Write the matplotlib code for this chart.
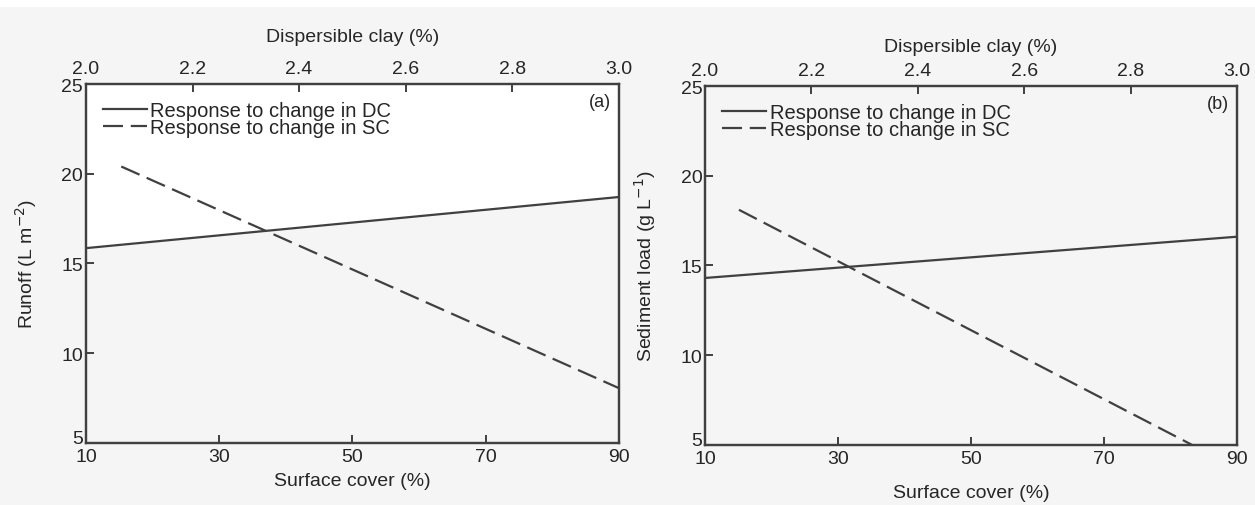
import numpy as np
import matplotlib
matplotlib.use('Agg')
import matplotlib.pyplot as plt

plt.rcParams['font.family'] = ['Liberation Sans', 'DejaVu Sans']

# data
# x: surface cover (%) for SC response, dispersible clay (%) for DC response
sc_x = [15.3, 90]
runoff_sc = [20.4, 8.05]
dc_x = [2.0, 3.0]
runoff_dc = [15.85, 18.7]

sed_sc_x = [15.1, 83.2]
sed_sc = [18.1, 5.0]
sed_dc = [14.3, 16.6]

sc_ticks = [10, 30, 50, 70, 90]
dc_ticks = [2.0, 2.2, 2.4, 2.6, 2.8, 3.0]
y_ticks = [5, 10, 15, 20, 25]

bg = '#f5f5f5'
ink = '#262626'
lc = '#404040'
fs = 14

fig = plt.figure(figsize=(12.55, 5.06), dpi=100, facecolor=bg)
# white strip along the top scan edge
fig.patches.append(plt.Rectangle((0, 0.986), 1, 0.014, transform=fig.transFigure,
                                 color='white', zorder=-1))

def panel(rect, sx, sy, dy, ylab, tag, xlab_pad, tlab_pad, fill=False):
    ax = fig.add_axes(rect)
    ax.set_facecolor(bg)
    ax.set_xlim(10, 90)
    ax.set_ylim(5, 25)
    ax.set_xticks(sc_ticks)
    ax.set_yticks(y_ticks)
    for s in ax.spines.values():
        s.set_linewidth(1.6)
        s.set_color(lc)
    ax.tick_params(axis='both', direction='in', length=6, width=1.4, colors=lc,
                   labelsize=fs, labelcolor=ink)
    ax.tick_params(axis='x', pad=4)
    ax.tick_params(axis='y', pad=2)
    # lift the bottom corner label like the original
    ax.get_yticklabels()[0].set_va('baseline')
    ax.set_xlabel('Surface cover (%)', fontsize=fs, color=ink, labelpad=xlab_pad)
    ax.set_ylabel(ylab, fontsize=fs, color=ink, labelpad=16)
    ln2, = ax.plot(sx, sy, color=lc, lw=1.6, dashes=(9, 3.5), zorder=3)

    top = ax.twiny()
    top.set_xlim(2.0, 3.0)
    top.set_xticks(dc_ticks)
    top.set_xticklabels(['%.1f' % t for t in dc_ticks])
    top.tick_params(axis='x', direction='in', length=6, width=1.4, colors=lc,
                    labelsize=fs, labelcolor=ink, pad=5)
    for s in top.spines.values():
        s.set_linewidth(1.6)
        s.set_color(lc)
    top.set_xlabel('Dispersible clay (%)', fontsize=fs, color=ink, labelpad=tlab_pad)
    ln1, = top.plot(dc_x, dy, color=lc, lw=1.6, zorder=3)
    if fill:
        top.fill_between(dc_x, dy, [25, 25], color='white', lw=0, zorder=0)
    ax.set_zorder(top.get_zorder() + 1)
    ax.patch.set_visible(False)
    top.patch.set_visible(True)
    top.patch.set_facecolor(bg)

    ax.legend([ln1, ln2], ['Response to change in DC', 'Response to change in SC'],
              loc='upper left', bbox_to_anchor=(0.0, 1.0), frameon=False,
              fontsize=fs + 0.5, handlelength=2.2, handletextpad=0.15,
              labelspacing=-0.1, borderaxespad=0.45, labelcolor=ink)
    ax.text(0.985, 0.975, tag, transform=ax.transAxes, ha='right', va='top',
            fontsize=fs - 1, color=ink)
    return ax

panel([0.0685, 0.123, 0.4245, 0.709], sc_x, runoff_sc, runoff_dc,
      'Runoff (L m$^{-2}$)', '(a)', 5, 14, fill=True)
panel([0.5618, 0.119, 0.4239, 0.709], sed_sc_x, sed_sc, sed_dc,
      'Sediment load (g L$^{-1}$)', '(b)', 12, 8)

fig.savefig('out.png', dpi=100, facecolor=bg)
